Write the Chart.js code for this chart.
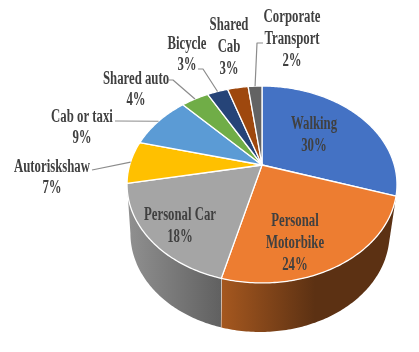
<!DOCTYPE html>
<html>
<head>
<meta charset="utf-8">
<style>
  html, body { margin: 0; padding: 0; background: #fff; }
  canvas { display: block; filter: blur(0.45px); }
</style>
<script src="https://cdn.jsdelivr.net/npm/chart.js@4"></script>
</head>
<body>
<canvas id="modeChart" width="419" height="352"></canvas>
<script>
const categories = ['Walking', 'Personal\nMotorbike', 'Personal Car', 'Autoriskshaw', 'Cab or taxi', 'Shared auto', 'Bicycle', 'Shared\nCab', 'Corporate\nTransport'];
const shares = [30, 24, 18, 7, 9, 4, 3, 3, 2];
const colors = ['#4472c4', '#ed7d31', '#a5a5a5', '#ffc000', '#5b9bd5', '#70ad47', '#264478', '#9e480e', '#636363'];

// where each label sits: centre x, first baseline y, line gap, and elbow of the leader line
const labelLayout = [
  { x: 314, y: 129, gap: 22 },
  { x: 295, y: 226, gap: 22 },
  { x: 180, y: 220, gap: 22 },
  { x: 52, y: 172, gap: 21, elbow: [[92, 170]] },
  { x: 82, y: 122, gap: 21, elbow: [[115, 121]] },
  { x: 136, y: 84, gap: 21, elbow: [[173, 80], [169, 80]] },
  { x: 187, y: 49, gap: 21, elbow: [[203, 69], [198, 69]] },
  { x: 229, y: 30, gap: 22 },
  { x: 292, y: 22, gap: 22, elbow: [[257, 43], [263, 43]] }
];

// perspective of the pie top, circle to screen
const cx = 262, cy = 165, radX = 132.3, radY = 94.6, tilt = 0.198;
// bottom rim is a bit narrower and sits lower
const rimX = 260, rimScale = 0.96, depth = 49;
const wallStart = 101.4 * Math.PI / 180, wallEnd = 258.6 * Math.PI / 180;

function project(angle, lower) {
  const u = Math.sin(angle), v = -Math.cos(angle);
  const w = 1 - tilt * v;
  const x = cx + radX * u / w, y = cy + radY * v / w;
  return lower ? [rimX + rimScale * (x - cx), y + depth] : [x, y];
}

function traceArc(ctx, from, to, lower) {
  const steps = Math.max(2, Math.ceil(Math.abs(to - from) / 0.015));
  for (let i = 0; i <= steps; i++) {
    const p = project(from + (to - from) * i / steps, lower);
    ctx.lineTo(p[0], p[1]);
  }
}

function wallFill(ctx, index) {
  const g = ctx.createLinearGradient(index === 2 ? 128 : 223, 0, index === 2 ? 224 : 315, 0);
  if (index === 0) { g.addColorStop(0, '#2b4a82'); g.addColorStop(1, '#2b4a82'); }
  if (index === 1) { g.addColorStop(0, '#a4571f'); g.addColorStop(1, '#5c3113'); }
  if (index === 2) { g.addColorStop(0, '#909090'); g.addColorStop(1, '#5f5f5f'); }
  return g;
}

const pie3d = {
  id: 'pie3d',
  beforeDatasetsDraw(chart) {
    const ctx = chart.ctx;
    const arcs = chart.getDatasetMeta(0).data;
    const turned = a => a + Math.PI / 2;

    // side wall first, only the front part shows
    arcs.forEach((arc, i) => {
      const from = Math.max(turned(arc.startAngle), wallStart);
      const to = Math.min(turned(arc.endAngle), wallEnd);
      if (to <= from) return;
      ctx.beginPath();
      traceArc(ctx, from, to, false);
      traceArc(ctx, to, from, true);
      ctx.closePath();
      ctx.fillStyle = wallFill(ctx, i);
      ctx.fill();
      ctx.strokeStyle = '#fff';
      ctx.lineWidth = 1;
      ctx.beginPath();
      const a = project(to, false), b = project(to, true);
      if (to < wallEnd) { ctx.moveTo(a[0], a[1]); ctx.lineTo(b[0], b[1]); ctx.stroke(); }
    });

    // top face
    arcs.forEach((arc, i) => {
      ctx.beginPath();
      ctx.moveTo(cx, cy);
      traceArc(ctx, turned(arc.startAngle), turned(arc.endAngle), false);
      ctx.closePath();
      ctx.fillStyle = colors[i];
      ctx.fill();
      ctx.strokeStyle = '#fff';
      ctx.lineWidth = 1.3;
      ctx.lineJoin = 'round';
      ctx.stroke();
    });

    // leader lines
    ctx.strokeStyle = '#8c8c8c';
    ctx.lineWidth = 1.2;
    arcs.forEach((arc, i) => {
      const elbow = labelLayout[i].elbow;
      if (!elbow) return;
      const p = project((turned(arc.startAngle) + turned(arc.endAngle)) / 2, false);
      ctx.beginPath();
      ctx.moveTo(p[0], p[1]);
      elbow.forEach(e => ctx.lineTo(e[0], e[1]));
      ctx.stroke();
    });

    // labels
    ctx.fillStyle = '#404040';
    ctx.font = 'bold 18px "Liberation Serif"';
    ctx.textAlign = 'center';
    ctx.textBaseline = 'alphabetic';
    categories.forEach((name, i) => {
      const spot = labelLayout[i];
      const lines = name.split('\n').concat(shares[i] + '%');
      lines.forEach((line, k) => {
        ctx.save();
        ctx.translate(spot.x, spot.y + k * spot.gap);
        ctx.scale(0.71, 1);
        ctx.fillText(line, 0, 0);
        ctx.restore();
      });
    });
    return false;
  }
};

new Chart(document.getElementById('modeChart'), {
  type: 'pie',
  data: {
    labels: categories.map(c => c.replace('\n', ' ')),
    datasets: [{ data: shares, backgroundColor: colors }]
  },
  options: {
    responsive: false,
    animation: false,
    plugins: { legend: { display: false }, tooltip: { enabled: false } }
  },
  plugins: [pie3d]
});
</script>
</body>
</html>
